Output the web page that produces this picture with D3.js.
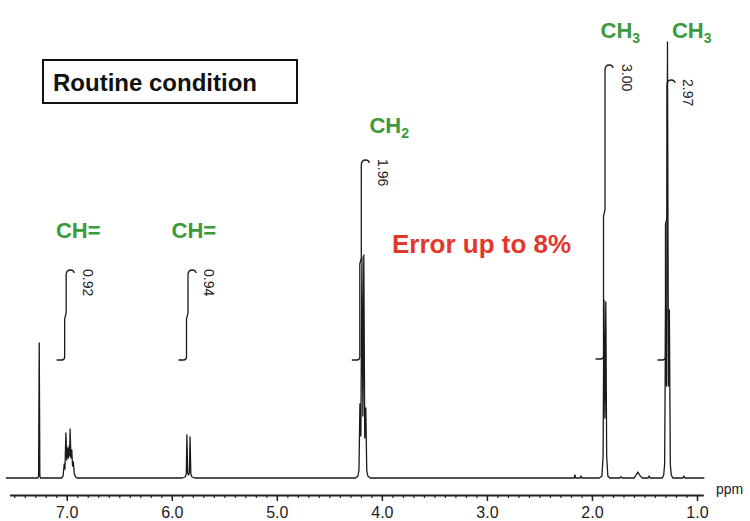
<!DOCTYPE html>
<html>
<head>
<meta charset="utf-8">
<script src="https://cdn.jsdelivr.net/npm/d3@7"></script>
<style>
  body { margin: 0; background: #fff; }
  svg { display: block; font-family: "Liberation Sans", Arial, sans-serif; }
</style>
</head>
<body>
<div id="chart"></div>
<script>
// spectrum: [ppm, intensity]
var spectrum = [
  [7.58, 0], [7.40, 0], [7.275, 0], [7.268, 2], [7.262, 135], [7.256, 2], [7.250, 0],
  [7.05, 0], [7.035, 2], [7.024, 14], [7.017, 9], [7.008, 45], [7.000, 18], [6.992, 30],
  [6.985, 20], [6.977, 32], [6.972, 22], [6.968, 49], [6.960, 20], [6.952, 28], [6.945, 12],
  [6.937, 16], [6.928, 4], [6.915, 1], [6.90, 0],
  [5.90, 0], [5.872, 1], [5.862, 4], [5.856, 43], [5.849, 5], [5.841, 3], [5.833, 5],
  [5.826, 41], [5.819, 4], [5.808, 1], [5.78, 0],
  [4.25, 0], [4.228, 2], [4.218, 8], [4.209, 74], [4.200, 42], [4.190, 221], [4.181, 62],
  [4.172, 223], [4.163, 40], [4.153, 70], [4.144, 8], [4.134, 2], [4.11, 0],
  [2.20, 0], [2.170, 0], [2.162, 3], [2.155, 0], [2.112, 0], [2.104, 2], [2.096, 0],
  [1.93, 0], [1.905, 2], [1.894, 22], [1.886, 178], [1.877, 60], [1.868, 176], [1.860, 22],
  [1.849, 2], [1.83, 0],
  [1.735, 0], [1.725, 1.5], [1.715, 0],
  [1.60, 0], [1.585, 2], [1.563, 6], [1.541, 2], [1.52, 0],
  [1.465, 0], [1.455, 2], [1.445, 0],
  [1.33, 0], [1.317, 3], [1.308, 14], [1.299, 170], [1.290, 92], [1.281, 436], [1.272, 92],
  [1.263, 168], [1.254, 14], [1.245, 3], [1.23, 0],
  [1.135, 0], [1.125, 2], [1.115, 0],
  [0.93, 0]
];

// integrals: where they rise (ppm), start and end level (intensity units), printed value
var integralPpm = [7.02, 5.86, 4.21, 1.89, 1.30];
var integralLow = [118, 118, 118, 119, 118];
var integralHigh = [208, 208, 318, 413, 398];
var integralLabels = ["0.92", "0.94", "1.96", "3.00", "2.97"];

// group labels
var groupNames = ["CH=", "CH=", "CH2", "CH3", "CH3"];
var groupPpm = [6.89, 5.79, 3.93, 1.73, 1.05];
var groupLevel = [240, 240, 345, 440, 440];

var majorTicks = [7, 6, 5, 4, 3, 2, 1];

var width = 750, height = 521;

var svg = d3.select("#chart").append("svg")
  .attr("width", width)
  .attr("height", height);

svg.append("rect").attr("width", width).attr("height", height).attr("fill", "#fff");

var x = d3.scaleLinear().domain([7.545, 0.94]).range([9.5, 703.3]);
var y = d3.scaleLinear().domain([0, 440]).range([478, 38]);

// axis
var minor = d3.range(75, 9, -1).map(function (d) { return d / 10; });
svg.append("g")
  .attr("transform", "translate(0,495)")
  .call(d3.axisBottom(x).tickValues(minor).tickSize(3).tickSizeOuter(0).tickFormat(""))
  .call(function (g) {
    g.select(".domain").attr("stroke", "#222").attr("stroke-width", 1.8);
    g.selectAll(".tick line").attr("stroke", "#222").attr("stroke-width", 1.2);
  });
svg.append("g")
  .attr("transform", "translate(0,495)")
  .call(d3.axisBottom(x).tickValues(majorTicks).tickSize(6).tickSizeOuter(0).tickFormat(d3.format(".1f")))
  .call(function (g) {
    g.select(".domain").remove();
    g.selectAll(".tick line").attr("stroke", "#222").attr("stroke-width", 1.5);
    g.selectAll(".tick text").attr("font-size", 16).attr("fill", "#222")
      .attr("font-family", "Liberation Sans, Arial, sans-serif").attr("dy", "0.85em");
  });
svg.append("text").attr("x", 716).attr("y", 494).attr("font-size", 14).attr("fill", "#222").text("ppm");

// spectrum
var line = d3.line().x(function (d) { return x(d[0]); }).y(function (d) { return y(d[1]); });
svg.append("path")
  .datum(spectrum)
  .attr("d", line)
  .attr("fill", "none")
  .attr("stroke", "#1a1a1a")
  .attr("stroke-width", 1.3)
  .attr("stroke-linejoin", "round");

// integral curves
integralPpm.forEach(function (p, i) {
  var x0 = x(p), yb = y(integralLow[i]), yt = y(integralHigh[i]);
  var ym = (yb + yt) / 2;
  var path = d3.path();
  path.moveTo(x0 - 8, yb);
  path.lineTo(x0 - 3, yb);
  path.quadraticCurveTo(x0, yb, x0, yb - 3);
  path.lineTo(x0, ym + 4);
  path.lineTo(x0 + 1.5, ym - 2);
  path.lineTo(x0 + 1.5, yt + 5);
  path.quadraticCurveTo(x0 + 1.5, yt, x0 + 6, yt);
  path.quadraticCurveTo(x0 + 9, yt, x0 + 9.5, yt + 3);
  svg.append("path")
    .attr("d", path.toString())
    .attr("fill", "none")
    .attr("stroke", "#1a1a1a")
    .attr("stroke-width", 1.3);
  svg.append("text")
    .attr("transform", "translate(" + (x0 + 23) + "," + (yt - 1) + ") rotate(90)")
    .attr("dominant-baseline", "central")
    .attr("font-size", 14)
    .attr("fill", "#222")
    .text(integralLabels[i]);
});

// group labels
groupNames.forEach(function (n, i) {
  var t = svg.append("text")
    .attr("x", x(groupPpm[i]))
    .attr("y", y(groupLevel[i]))
    .attr("text-anchor", "middle")
    .attr("font-size", 22)
    .attr("font-weight", "bold")
    .attr("fill", "#3d9a3d");
  if (n === "CH=") {
    t.text("CH=");
  } else {
    t.text("CH");
    t.append("tspan").attr("dy", 5).attr("font-size", 14).text(n.slice(2));
  }
});

// annotations
svg.append("rect")
  .attr("x", 43).attr("y", 60).attr("width", 254).attr("height", 43)
  .attr("fill", "#fff").attr("stroke", "#111").attr("stroke-width", 2);
svg.append("text")
  .attr("x", 53).attr("y", 91)
  .attr("font-size", 24).attr("font-weight", "bold").attr("fill", "#111")
  .text("Routine condition");

svg.append("text")
  .attr("x", 392).attr("y", 253)
  .attr("font-size", 26).attr("font-weight", "bold").attr("fill", "#e3372b")
  .text("Error up to 8%");
</script>
</body>
</html>
